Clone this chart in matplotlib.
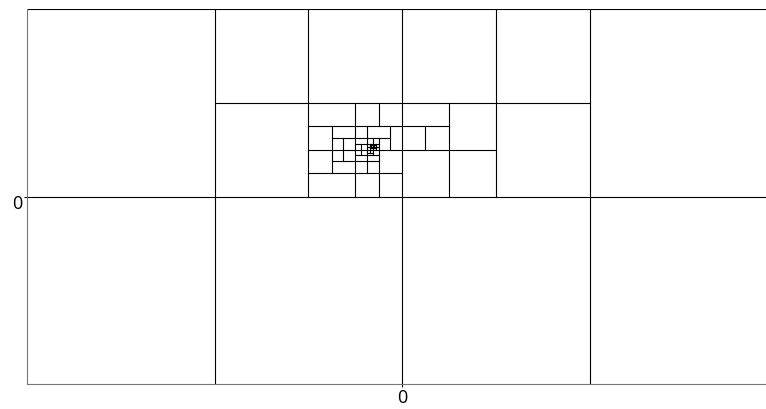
import numpy as np
import matplotlib
matplotlib.use("Agg")
from matplotlib import pyplot as plt
from matplotlib import transforms

plt.rcParams['font.family'] = ['Open Sans', 'DejaVu Sans']

# cell borders of the refinement, in data units (domain is [-2, 2] x [-1, 1])
# horizontal segments: (y, x_start, x_end)
h_lines = [
    (1.0, -2.0, 2.0),
    (0.0, -2.0, 2.0),
    (0.5, -1.0, 1.0),
    (0.25, -0.5, 0.5),
    (0.375, -0.5, 0.25),
    (0.125, -0.5, 0.0),
    (0.3125, -0.375, -0.0625),
    (0.1875, -0.375, -0.125),
    (0.28125, -0.25, -0.125),
    (0.21875, -0.25, -0.125),
    (0.265625, -0.1875, -0.125),
    (0.234375, -0.1875, -0.15625),
    (0.2578125, -0.171875, -0.140625),
    (0.2734375, -0.171875, -0.140625),
]
# vertical segments: (x, y_start, y_end)
v_lines = [
    (-1.0, -1.0, 1.0),
    (0.0, -1.0, 1.0),
    (1.0, -1.0, 1.0),
    (-0.5, 0.0, 1.0),
    (0.5, 0.0, 1.0),
    (-0.25, 0.0, 0.5),
    (0.25, 0.0, 0.5),
    (-0.125, 0.375, 0.5),
    (-0.125, 0.0, 0.3125),
    (0.125, 0.25, 0.375),
    (-0.375, 0.125, 0.375),
    (-0.3125, 0.1875, 0.3125),
    (-0.1875, 0.125, 0.375),
    (-0.0625, 0.25, 0.375),
    (-0.21875, 0.21875, 0.28125),
    (-0.15625, 0.21875, 0.3125),
    (-0.171875, 0.234375, 0.28125),
    (-0.140625, 0.25, 0.28125),
    (-0.1640625, 0.2578125, 0.2734375),
    (-0.1484375, 0.2578125, 0.2734375),
]

x_ticks = [0]
y_ticks = [0]

fig = plt.figure(figsize=(7.66, 4.10), dpi=100)
ax = fig.add_axes([27 / 766, 25 / 410, 750 / 766, 375 / 410])

for y, x0, x1 in h_lines:
    ax.plot([x0, x1], [y, y], color='black', lw=0.8)
for x, y0, y1 in v_lines:
    ax.plot([x, x], [y0, y1], color='black', lw=0.8)

ax.set_xlim(-2, 2)
ax.set_ylim(-1, 1)
ax.set_xticks(x_ticks)
ax.set_yticks(y_ticks)
ax.tick_params(labelsize=13, length=2, width=0.8, pad=1)
# the y label sits a little below its tick in the original
shift = transforms.ScaledTranslation(0, -5 / 100, fig.dpi_scale_trans)
for lab in ax.get_yticklabels():
    lab.set_transform(lab.get_transform() + shift)
for side in ['top', 'right']:
    ax.spines[side].set_visible(False)
for side in ['left', 'bottom']:
    ax.spines[side].set_color('#777777')
    ax.spines[side].set_zorder(5)

fig.savefig('out.png', dpi=100)
